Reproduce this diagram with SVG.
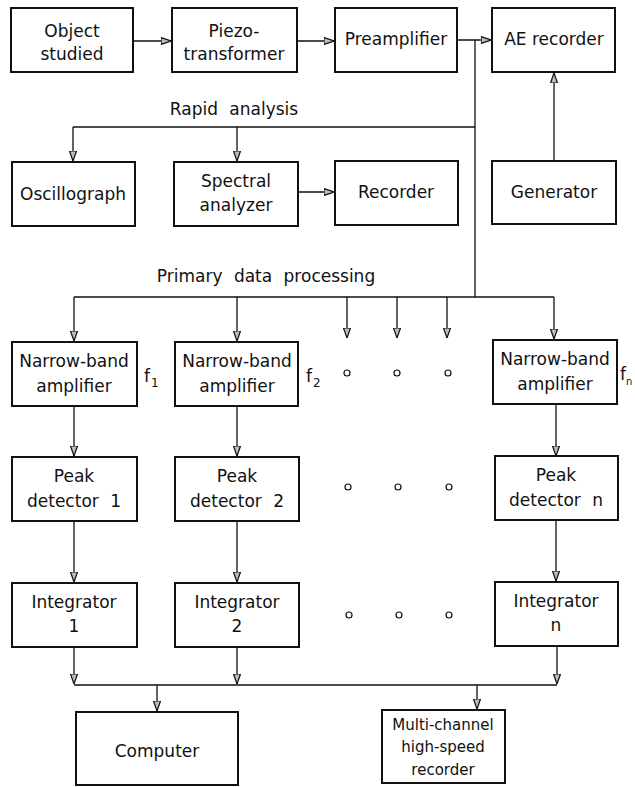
<svg xmlns="http://www.w3.org/2000/svg" width="635" height="787" viewBox="0 0 635 787">
<defs>
<style>
.box{fill:#fff;stroke:#111;stroke-width:2}
.ln{fill:none;stroke:#111;stroke-width:1.3}
.arr{marker-end:url(#ah)}
text{font-family:"DejaVu Sans","Liberation Sans",sans-serif;font-size:17px;fill:#111;text-anchor:middle}
.sm{font-size:15px}
.lbl{word-spacing:6px}
.dot{fill:#fff;stroke:#111;stroke-width:1.2}
</style>
<marker id="ah" viewBox="0 0 10 8" refX="10" refY="4" markerWidth="10" markerHeight="8" markerUnits="userSpaceOnUse" orient="auto">
<path d="M0,0.5 L10,4 L0,7.5 Z" fill="#bbb" stroke="#111" stroke-width="1.2"/>
</marker>
</defs>
<g id="connectors">
<line class="ln arr" x1="133" y1="41" x2="171" y2="41"/>
<line class="ln arr" x1="297" y1="41" x2="334" y2="41"/>
<line class="ln arr" x1="457" y1="40" x2="491" y2="40"/>
<line class="ln arr" x1="554" y1="161" x2="554" y2="73"/>
<polyline class="ln" points="475,40 475,297"/>
<polyline class="ln" points="475,127 73,127"/>
<line class="ln arr" x1="73" y1="127" x2="73" y2="161"/>
<line class="ln arr" x1="237" y1="127" x2="237" y2="161"/>
<line class="ln arr" x1="298" y1="192" x2="334" y2="192"/>
<polyline class="ln" points="74,297 554,297"/>
<line class="ln arr" x1="74" y1="297" x2="74" y2="341"/>
<line class="ln arr" x1="237" y1="297" x2="237" y2="341"/>
<line class="ln arr" x1="347" y1="297" x2="347" y2="338"/>
<line class="ln arr" x1="397" y1="297" x2="397" y2="338"/>
<line class="ln arr" x1="447" y1="297" x2="447" y2="338"/>
<line class="ln arr" x1="554" y1="297" x2="554" y2="339"/>
<line class="ln arr" x1="74" y1="406" x2="74" y2="456"/>
<line class="ln arr" x1="237" y1="406" x2="237" y2="456"/>
<line class="ln arr" x1="556" y1="404" x2="556" y2="456"/>
<line class="ln arr" x1="74" y1="521" x2="74" y2="582"/>
<line class="ln arr" x1="237" y1="521" x2="237" y2="582"/>
<line class="ln arr" x1="556" y1="520" x2="556" y2="581"/>
<line class="ln arr" x1="74" y1="647" x2="74" y2="684"/>
<line class="ln arr" x1="237" y1="647" x2="237" y2="684"/>
<line class="ln arr" x1="557" y1="646" x2="557" y2="684"/>
<polyline class="ln" points="74,685 557,685"/>
<line class="ln arr" x1="157" y1="685" x2="157" y2="711"/>
<line class="ln arr" x1="477" y1="685" x2="477" y2="709"/>
</g>
<g id="object">
<rect class="box" x="11" y="8" width="122" height="64"/>
<text x="72" y="37">Object</text><text x="72" y="60">studied</text>
</g>
<g id="piezo">
<rect class="box" x="172" y="8" width="125" height="64"/>
<text x="234" y="37">Piezo-</text><text x="234" y="60">transformer</text>
</g>
<g id="preamp">
<rect class="box" x="335" y="8" width="122" height="64"/>
<text x="396" y="45">Preamplifier</text>
</g>
<g id="ae">
<rect class="box" x="492" y="8" width="123" height="64"/>
<text x="554" y="45">AE recorder</text>
</g>
<g id="rapid-label"><text class="lbl" x="234" y="115">Rapid analysis</text></g>
<g id="osc">
<rect class="box" x="12" y="162" width="123" height="64"/>
<text x="73" y="200">Oscillograph</text>
</g>
<g id="spectral">
<rect class="box" x="174" y="162" width="124" height="64"/>
<text x="236" y="187">Spectral</text><text x="236" y="211">analyzer</text>
</g>
<g id="recorder">
<rect class="box" x="335" y="161" width="123" height="64"/>
<text x="396" y="198">Recorder</text>
</g>
<g id="generator">
<rect class="box" x="492" y="161" width="124" height="63"/>
<text x="554" y="198">Generator</text>
</g>
<g id="primary-label"><text class="lbl" x="266" y="282">Primary data processing</text></g>
<g id="nba1">
<rect class="box" x="12" y="342" width="125" height="64"/>
<text x="74" y="367">Narrow-band</text><text x="74" y="392">amplifier</text>
<text x="144" y="382" style="text-anchor:start">f</text><text x="151" y="387" style="text-anchor:start;font-size:12px">1</text>
</g>
<g id="nba2">
<rect class="box" x="175" y="342" width="123" height="64"/>
<text x="237" y="367">Narrow-band</text><text x="237" y="392">amplifier</text>
<text x="306" y="382" style="text-anchor:start">f</text><text x="313" y="387" style="text-anchor:start;font-size:12px">2</text>
</g>
<g id="nban">
<rect class="box" x="493" y="340" width="124" height="64"/>
<text x="555" y="365">Narrow-band</text><text x="555" y="390">amplifier</text>
<text x="620" y="380" style="text-anchor:start">f</text><text x="626" y="385" style="text-anchor:start;font-size:10px">n</text>
</g>
<g id="dots">
<circle class="dot" cx="347" cy="373" r="3"/><circle class="dot" cx="397" cy="373" r="3"/><circle class="dot" cx="448" cy="373" r="3"/>
<circle class="dot" cx="348" cy="487" r="3"/><circle class="dot" cx="398" cy="487" r="3"/><circle class="dot" cx="449" cy="487" r="3"/>
<circle class="dot" cx="349" cy="615" r="3"/><circle class="dot" cx="399" cy="615" r="3"/><circle class="dot" cx="449" cy="615" r="3"/>
</g>
<g id="peak1">
<rect class="box" x="12" y="457" width="125" height="64"/>
<text x="74" y="482">Peak</text><text class="lbl" x="74" y="507">detector 1</text>
</g>
<g id="peak2">
<rect class="box" x="175" y="457" width="124" height="64"/>
<text x="237" y="482">Peak</text><text class="lbl" x="237" y="507">detector 2</text>
</g>
<g id="peakn">
<rect class="box" x="495" y="456" width="123" height="64"/>
<text x="556" y="481">Peak</text><text class="lbl" x="556" y="506">detector n</text>
</g>
<g id="int1">
<rect class="box" x="12" y="583" width="125" height="64"/>
<text x="74" y="608">Integrator</text><text x="74" y="632">1</text>
</g>
<g id="int2">
<rect class="box" x="175" y="583" width="124" height="64"/>
<text x="237" y="608">Integrator</text><text x="237" y="632">2</text>
</g>
<g id="intn">
<rect class="box" x="495" y="582" width="123" height="64"/>
<text x="556" y="607">Integrator</text><text x="556" y="631">n</text>
</g>
<g id="computer">
<rect class="box" x="76" y="712" width="162" height="73"/>
<text x="157" y="757">Computer</text>
</g>
<g id="multi">
<rect class="box" x="382" y="710" width="123" height="73"/>
<text class="sm" x="443" y="730">Multi-channel</text><text class="sm" x="443" y="752">high-speed</text><text class="sm" x="443" y="775">recorder</text>
</g>
</svg>
